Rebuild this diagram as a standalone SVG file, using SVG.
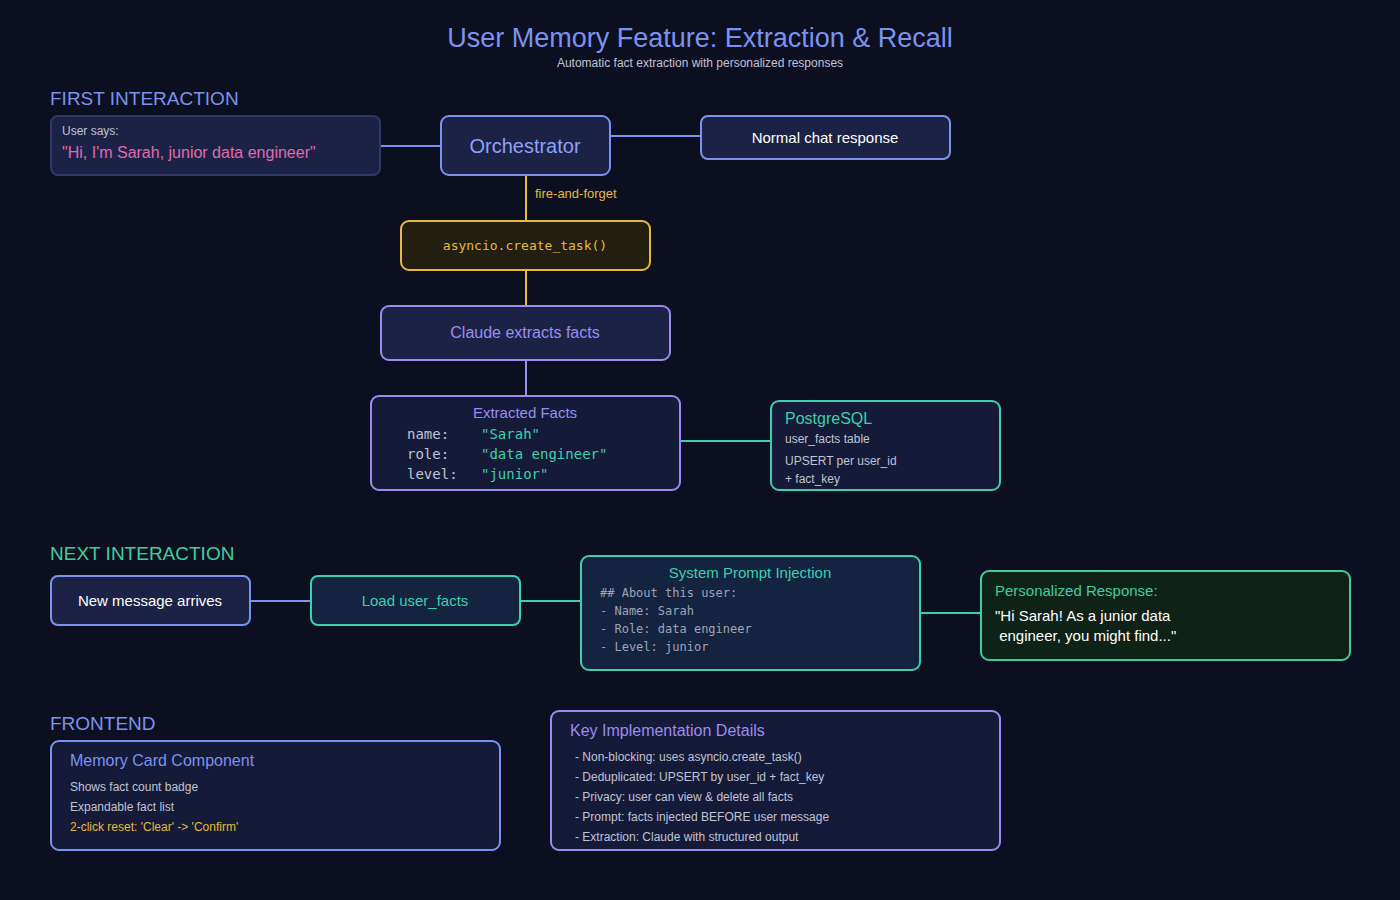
<svg xmlns="http://www.w3.org/2000/svg" width="1400" height="900" viewBox="0 0 1400 900">
<style>
text{font-family:"Liberation Sans",Arial,sans-serif}
.m,.m text{font-family:"DejaVu Sans Mono","Liberation Mono",monospace}
.box{stroke-width:2}
.sec{font-size:19px}
</style>
<rect width="1400" height="900" fill="#0c0f1f"/>
<text x="700" y="47" text-anchor="middle" font-size="27" fill="#7b93f0">User Memory Feature: Extraction &amp; Recall</text>
<text x="700" y="67" text-anchor="middle" font-size="12" fill="#c0c4d4">Automatic fact extraction with personalized responses</text>
<text x="50" y="105" class="sec" fill="#7b93f0">FIRST INTERACTION</text>
<text x="50" y="560" class="sec" fill="#3ccf9e">NEXT INTERACTION</text>
<text x="50" y="730" class="sec" fill="#7b93f0">FRONTEND</text>
<g id="connectors" stroke-width="2" fill="none">
<line x1="380" y1="146" x2="441" y2="146" stroke="#7b93f0"/>
<line x1="610" y1="136" x2="701" y2="136" stroke="#7b93f0"/>
<line x1="526" y1="175" x2="526" y2="221" stroke="#e8b93a"/>
<line x1="526" y1="270" x2="526" y2="306" stroke="#e8b93a"/>
<line x1="526" y1="360" x2="526" y2="396" stroke="#9d8cf0"/>
<line x1="680" y1="441" x2="771" y2="441" stroke="#3ccfb0"/>
<line x1="250" y1="601" x2="311" y2="601" stroke="#7b93f0"/>
<line x1="520" y1="601" x2="581" y2="601" stroke="#3ccfb0"/>
<line x1="920" y1="613" x2="981" y2="613" stroke="#3ccfb0"/>
<text x="535" y="198" font-size="13" fill="#e8b93a" stroke="none">fire-and-forget</text>
</g>
<g id="user-says"><rect x="51" y="116" width="329" height="59" rx="7" fill="#1b2245" stroke="#2f3868" class="box"/>
<text x="62" y="135" font-size="12" fill="#c0c4d4">User says:</text>
<text x="62" y="158" font-size="16" fill="#e06bb0">"Hi, I'm Sarah, junior data engineer"</text></g>
<g id="orchestrator"><rect x="441" y="116" width="169" height="59" rx="8" fill="#1b2245" stroke="#7b93f0" class="box"/>
<text x="525" y="153" text-anchor="middle" font-size="20" fill="#8da3f5">Orchestrator</text></g>
<g id="normal"><rect x="701" y="116" width="249" height="43" rx="7" fill="#1b2245" stroke="#7b93f0" class="box"/>
<text x="825" y="143" text-anchor="middle" font-size="15" fill="#ffffff">Normal chat response</text></g>
<g id="asyncio"><rect x="401" y="221" width="249" height="49" rx="8" fill="#221f10" stroke="#e8b93a" class="box"/>
<text x="525" y="250" text-anchor="middle" font-size="13" class="m" fill="#e8b93a">asyncio.create_task()</text></g>
<g id="claude"><rect x="381" y="306" width="289" height="54" rx="8" fill="#1b2245" stroke="#9d8cf0" class="box"/>
<text x="525" y="338" text-anchor="middle" font-size="16" fill="#9d8cf0">Claude extracts facts</text></g>
<g id="facts"><rect x="371" y="396" width="309" height="94" rx="8" fill="#141a38" stroke="#9d8cf0" class="box"/>
<text x="525" y="418" text-anchor="middle" font-size="15" fill="#9d8cf0">Extracted Facts</text>
<g class="m" font-size="14"><text x="407" y="439" fill="#c0c4d4">name:</text><text x="481" y="439" fill="#3ccfb0">"Sarah"</text>
<text x="407" y="459" fill="#c0c4d4">role:</text><text x="481" y="459" fill="#3ccfb0">"data engineer"</text>
<text x="407" y="479" fill="#c0c4d4">level:</text><text x="481" y="479" fill="#3ccfb0">"junior"</text></g></g>
<g id="postgres"><rect x="771" y="401" width="229" height="89" rx="8" fill="#141a38" stroke="#3ccfb0" class="box"/>
<text x="785" y="424" font-size="16" fill="#3ccfb0">PostgreSQL</text>
<text x="785" y="443" font-size="12" fill="#c0c4d4">user_facts table</text>
<text x="785" y="465" font-size="12" fill="#c0c4d4">UPSERT per user_id</text>
<text x="785" y="483" font-size="12" fill="#c0c4d4">+ fact_key</text></g>
<g id="newmsg"><rect x="51" y="576" width="199" height="49" rx="7" fill="#1b2245" stroke="#7b93f0" class="box"/>
<text x="150" y="606" text-anchor="middle" font-size="15" fill="#ffffff">New message arrives</text></g>
<g id="load"><rect x="311" y="576" width="209" height="49" rx="7" fill="#132340" stroke="#3ccfb0" class="box"/>
<text x="415" y="606" text-anchor="middle" font-size="15" fill="#3ccfb0">Load user_facts</text></g>
<g id="sysprompt"><rect x="581" y="556" width="339" height="114" rx="8" fill="#132340" stroke="#3ccfb0" class="box"/>
<text x="750" y="578" text-anchor="middle" font-size="15" fill="#3ccfb0">System Prompt Injection</text>
<g class="m" font-size="12" fill="#a0a4b4"><text x="600" y="597">## About this user:</text><text x="600" y="615">- Name: Sarah</text><text x="600" y="633">- Role: data engineer</text><text x="600" y="651">- Level: junior</text></g></g>
<g id="personal"><rect x="981" y="571" width="369" height="89" rx="8" fill="#0e2218" stroke="#3ccf9e" class="box"/>
<text x="995" y="596" font-size="15" fill="#3ccf9e">Personalized Response:</text>
<text x="995" y="621" font-size="15" fill="#ffffff">"Hi Sarah! As a junior data</text>
<text x="995" y="641" font-size="15" fill="#ffffff" xml:space="preserve"> engineer, you might find..."</text></g>
<g id="memcard"><rect x="51" y="741" width="449" height="109" rx="8" fill="#141a38" stroke="#7b93f0" class="box"/>
<text x="70" y="766" font-size="16" fill="#7b93f0">Memory Card Component</text>
<text x="70" y="791" font-size="12" fill="#c0c4d4">Shows fact count badge</text>
<text x="70" y="811" font-size="12" fill="#c0c4d4">Expandable fact list</text>
<text x="70" y="831" font-size="12" fill="#e8b93a">2-click reset: 'Clear' -&gt; 'Confirm'</text></g>
<g id="details"><rect x="551" y="711" width="449" height="139" rx="8" fill="#141a38" stroke="#9d8cf0" class="box"/>
<text x="570" y="736" font-size="16" fill="#9d8cf0">Key Implementation Details</text>
<g font-size="12" fill="#c0c4d4"><text x="575" y="761">- Non-blocking: uses asyncio.create_task()</text>
<text x="575" y="781">- Deduplicated: UPSERT by user_id + fact_key</text>
<text x="575" y="801">- Privacy: user can view &amp; delete all facts</text>
<text x="575" y="821">- Prompt: facts injected BEFORE user message</text>
<text x="575" y="841">- Extraction: Claude with structured output</text></g></g>
</svg>
